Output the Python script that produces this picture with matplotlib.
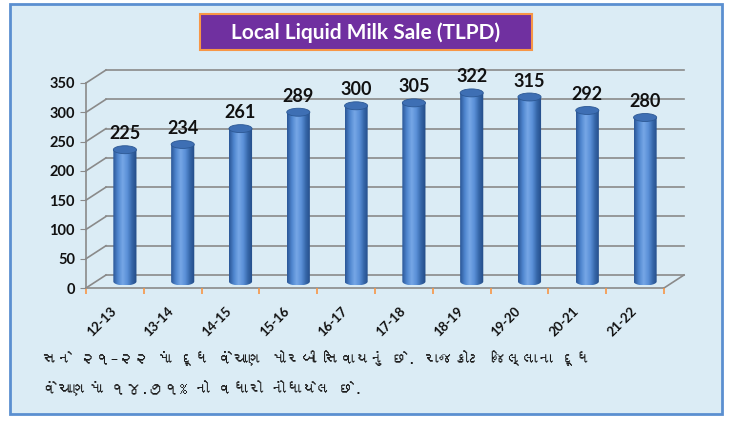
import matplotlib
matplotlib.use("Agg")
import matplotlib.pyplot as plt
import numpy as np
from matplotlib.patches import Rectangle, Ellipse, Polygon
from matplotlib.colors import LinearSegmentedColormap
from matplotlib import font_manager
from matplotlib.ft2font import FT2Font
import matplotlib.transforms as mtransforms

# ---------------- data ----------------
categories = ["12-13", "13-14", "14-15", "15-16", "16-17", "17-18", "18-19", "19-20", "20-21", "21-22"]
values = [225, 234, 261, 289, 300, 305, 322, 315, 292, 280]
y_ticks = [0, 50, 100, 150, 200, 250, 300, 350]
title = "Local Liquid Milk Sale (TLPD)"
note_line1 = "સને ૨૧–૨૨ માં દૂધ વેંચાણ મોરબી સિવાયનું છે. રાજકોટ જિલ્લાના દૂધ"
note_line2 = "વેંચાણમાં ૧૪.૭૧% નો વધારો નોંધાયેલ છે."

# ---------------- fonts ----------------
guj_family = None
for f in font_manager.fontManager.ttflist:
    try:
        if 0x0AB8 in FT2Font(f.fname).get_charmap():
            guj_family = f.name
            break
    except Exception:
        pass
note_fonts = ([guj_family] if guj_family else []) + ["Noto Sans", "DejaVu Sans"]
main_font = ["Lato", "DejaVu Sans"]

W, H = 731, 422
fig = plt.figure(figsize=(W / 100, H / 100), dpi=100, facecolor="white")

# panel background with blue border
fig.patches.append(Rectangle((10 / W, 1 - 414 / H), 712 / W, 410 / H, transform=fig.transFigure,
                             facecolor="#dbecf5", edgecolor="#5b8fd0", lw=2, zorder=-5))

# title box
fig.patches.append(Rectangle((200 / W, 1 - 50 / H), 332 / W, 36 / H, transform=fig.transFigure,
                             facecolor="#7030a0", edgecolor="#f79646", lw=1.5, zorder=1))
fig.text(366 / W, 1 - 32.5 / H, title, ha="center", va="center", color="white",
         fontsize=15, fontweight="bold", family=main_font, zorder=2)

# front plane axes
ax = fig.add_axes([86 / W, 1 - 288 / H, 578 / W, 205 / H])
ax.set_zorder(3)
ax.set_facecolor("none")
for s in ax.spines.values():
    s.set_visible(False)
n = len(categories)
ax.set_xlim(-0.5, n - 0.5)
ax.set_ylim(0, 350)

DX = 0.346   # depth offset in category units
DY = 22.2    # depth offset in value units
grid_c = "#8a8a8a"

# back wall gridlines and left wall diagonals
for yv in y_ticks:
    ax.plot([-0.5 + DX, n - 0.5 + DX], [yv + DY, yv + DY], color=grid_c, lw=1.2, clip_on=False, zorder=1)
    ax.plot([-0.5, -0.5 + DX], [yv, yv + DY], color=grid_c, lw=1.2, clip_on=False, zorder=1)
# floor
ax.plot([-0.5, n - 0.5], [0, 0], color=grid_c, lw=1.2, clip_on=False, zorder=1)
ax.plot([n - 0.5, n - 0.5 + DX], [0, DY], color=grid_c, lw=1.2, clip_on=False, zorder=1)
# front vertical axis
ax.plot([-0.5, -0.5], [0, 350], color=grid_c, lw=1.2, clip_on=False, zorder=1)

# cylinders
cmap = LinearSegmentedColormap.from_list("cyl", ["#2b5797", "#4f86cf", "#76a7e6", "#5b90d8", "#3566a8", "#234b86"])
grad = np.linspace(0, 1, 64).reshape(1, -1)
bw = 0.40
eh = 6.8
for i, v in enumerate(values):
    xc = i + DX / 2
    base = DY / 2
    x0, x1 = xc - bw / 2, xc + bw / 2
    th = np.linspace(np.pi, 2 * np.pi, 40)
    arc = np.column_stack([xc + bw / 2 * np.cos(th), base + eh * np.sin(th)])
    verts = np.vstack([[[x0, base + v]], arc, [[x1, base + v]]])
    poly = Polygon(verts, closed=True, transform=ax.transData)
    im = ax.imshow(grad, extent=[x0, x1, base - eh, base + v], aspect="auto", cmap=cmap,
                   zorder=3, interpolation="bilinear")
    im.set_clip_path(poly)
    ax.add_patch(Ellipse((xc, base + v), bw, 2 * eh, facecolor="#3e6fb4", edgecolor="#2c5894",
                         lw=0.6, zorder=4))
    ax.text(xc, base + v + eh + 6, str(v), ha="center", va="bottom", fontsize=13,
            fontweight="bold", family=main_font, color="#111111", zorder=5)

ax.set_xlim(-0.5, n - 0.5)
ax.set_ylim(0, 350)

# ticks
ax.set_yticks(y_ticks)
ax.set_yticklabels([str(t) for t in y_ticks], fontsize=10.5, fontweight="bold", family=main_font)
ax.tick_params(axis="y", length=4, color=grid_c, pad=4, labelcolor="#111111")
ax.set_xticks(np.arange(-0.5, n, 1.0))
ax.set_xticklabels([])
ax.tick_params(axis="x", which="major", length=4, color="#f79646", width=1.2)
ax.set_xticks(np.arange(n), minor=True)
ax.set_xticklabels(categories, minor=True, rotation=45, ha="right", va="top", rotation_mode="anchor",
                   fontsize=9.5, fontweight="bold", family=main_font, color="#111111")
ax.tick_params(axis="x", which="minor", length=0, pad=12)
shift = mtransforms.ScaledTranslation(-0.05, 0, fig.dpi_scale_trans)
for lab in ax.get_xticklabels(minor=True):
    lab.set_transform(lab.get_transform() + shift)

# note text
fig.text(42 / W, 1 - 358 / H, note_line1, ha="left", va="center", fontsize=11,
         family=note_fonts, color="#1a1a1a")
fig.text(42 / W, 1 - 388 / H, note_line2, ha="left", va="center", fontsize=11,
         family=note_fonts, color="#1a1a1a")

fig.savefig("out.png", dpi=100, facecolor="white")
